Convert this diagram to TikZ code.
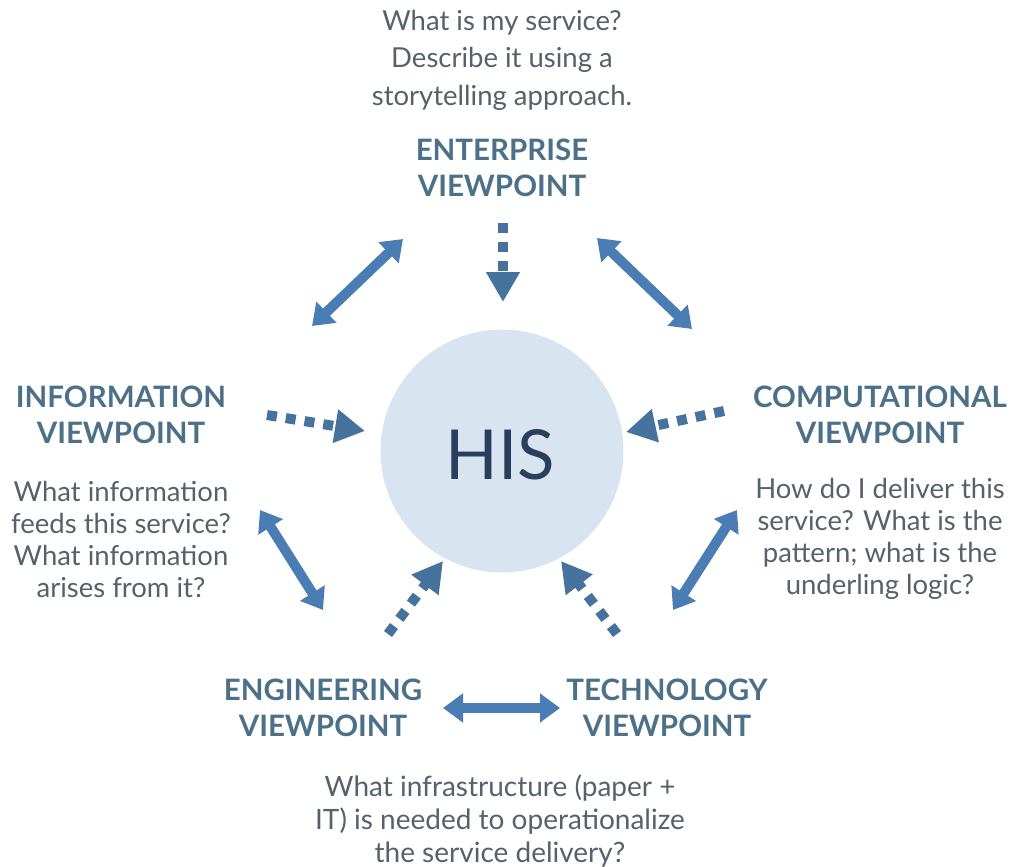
\documentclass[tikz,border=0pt]{standalone}
\usepackage{fontspec}
\setmainfont{Lato}
\usetikzlibrary{arrows.meta}
\definecolor{headc}{HTML}{4D7089}
\definecolor{bodyc}{HTML}{55616B}
\definecolor{arrc}{HTML}{4A7DB3}
\definecolor{dotc}{HTML}{45739E}
\definecolor{circc}{HTML}{D8E5F1}
\definecolor{hisc}{HTML}{2B3E5E}
\begin{document}
\begin{tikzpicture}[x=1pt,y=-1pt,
  head/.style={text=headc,align=center,font=\fontsize{29.5}{36.5}\selectfont\bfseries,inner sep=0pt},
  body/.style={text=bodyc,align=center,font=\fontsize{27.5}{32}\selectfont,inner sep=0pt},
  dbl/.style={draw=arrc,line width=10pt,{Triangle[width=28pt,length=20pt]}-{Triangle[width=28pt,length=20pt]}},
  dotarr/.style={draw=dotc,line width=10pt,dash pattern=on 10pt off 9pt,-{Triangle[width=32pt,length=30pt]}}]
\useasboundingbox (0,0) rectangle (1013,867);
\node[circle,fill=circc,minimum size=243pt,inner sep=0pt] (his) at (502,451) {};
\node[text=hisc,font=\fontsize{69}{69}\selectfont] (histext) at (500,455) {HIS};
% texts
\node[body,font=\fontsize{27.5}{37.5}\selectfont] (entq) at (502,60) {What is my service?\\Describe it using a\\storytelling approach.};
\node[head] (ent) at (502,168) {ENTERPRISE\\VIEWPOINT};
\node[head] (inf) at (121,415) {INFORMATION\\VIEWPOINT};
\node[body] (infq) at (121,539) {What information\\feeds this service?\\What information\\arises from it?};
\node[head] (comp) at (880,415) {COMPUTATIONAL\\VIEWPOINT};
\node[body] (compq) at (880,539) {How do I deliver this\\service? What is the\\pattern; what is the\\underling logic?};
\node[head] (eng) at (323,708) {ENGINEERING\\VIEWPOINT};
\node[head] (tech) at (667,708) {TECHNOLOGY\\VIEWPOINT};
\node[body,font=\fontsize{28}{33}\selectfont] (engq) at (500,821) {What infrastructure (paper +\\IT) is needed to operationalize\\the service delivery?};
% arrow end points
\coordinate (a1) at (312,326); \coordinate (a2) at (403,239);
\coordinate (b1) at (597,238); \coordinate (b2) at (692,329);
\coordinate (c1) at (260,510); \coordinate (c2) at (323,610);
\coordinate (d1) at (737,510); \coordinate (d2) at (673,610);
\coordinate (e1) at (443,708); \coordinate (e2) at (560,708);
\coordinate (f1) at (503,223); \coordinate (f2) at (503,302);
\coordinate (g1) at (267,415); \coordinate (g2) at (365,431);
\coordinate (h1) at (724,411); \coordinate (h2) at (626,432);
\coordinate (i1) at (388,634); \coordinate (i2) at (443,561);
\coordinate (j1) at (617,634); \coordinate (j2) at (561,561);
\draw[dbl] (a1) -- (a2);
\draw[dbl] (b1) -- (b2);
\draw[dbl] (c1) -- (c2);
\draw[dbl] (d1) -- (d2);
\draw[dbl] (e1) -- (e2);
\draw[dotarr] (f1) -- (f2);
\draw[dotarr] (g1) -- (g2);
\draw[dotarr] (h1) -- (h2);
\draw[dotarr] (i1) -- (i2);
\draw[dotarr] (j1) -- (j2);
\end{tikzpicture}
\end{document}
